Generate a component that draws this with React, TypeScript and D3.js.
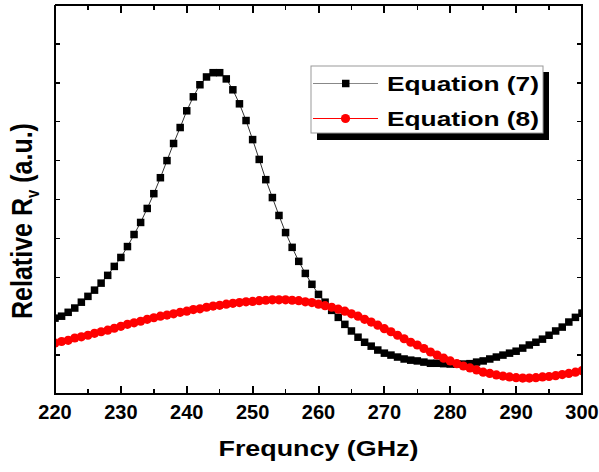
import React from 'react';
import * as d3 from 'd3';

// frequency axis, 1 GHz steps
const freqs = d3.range(220, 301, 1);

// Equation (7), relative units
const eq7 = [
  1.95, 2.0, 2.1, 2.21, 2.36, 2.51, 2.67, 2.85, 3.05, 3.28,
  3.51, 3.79, 4.1, 4.41, 4.77, 5.15, 5.56, 6.0, 6.44, 6.85,
  7.28, 7.64, 7.95, 8.15, 8.26, 8.26, 8.1, 7.82, 7.46, 7.03,
  6.54, 6.03, 5.51, 5.05, 4.59, 4.15, 3.77, 3.41, 3.1, 2.82,
  2.56, 2.36, 2.15, 1.97, 1.79, 1.62, 1.46, 1.33, 1.23, 1.13,
  1.05, 1.0, 0.95, 0.9, 0.87, 0.85, 0.82, 0.79, 0.79, 0.78,
  0.77, 0.77, 0.77, 0.78, 0.82, 0.85, 0.9, 0.95, 1.0, 1.05,
  1.1, 1.18, 1.26, 1.33, 1.41, 1.51, 1.62, 1.72, 1.85, 1.97,
  2.08,
];

// Equation (8), relative units
const eq8 = [
  1.31, 1.35, 1.38, 1.44, 1.47, 1.51, 1.56, 1.6, 1.64, 1.69,
  1.74, 1.79, 1.83, 1.87, 1.92, 1.96, 2.0, 2.03, 2.06, 2.1,
  2.13, 2.17, 2.19, 2.23, 2.26, 2.28, 2.31, 2.33, 2.35, 2.37,
  2.38, 2.4, 2.41, 2.42, 2.42, 2.42, 2.41, 2.4, 2.37, 2.35,
  2.31, 2.27, 2.23, 2.18, 2.13, 2.06, 2.0, 1.92, 1.85, 1.77,
  1.68, 1.6, 1.51, 1.42, 1.33, 1.26, 1.17, 1.08, 1.0, 0.92,
  0.85, 0.78, 0.72, 0.67, 0.62, 0.56, 0.53, 0.49, 0.46, 0.44,
  0.42, 0.41, 0.41, 0.42, 0.44, 0.45, 0.47, 0.5, 0.53, 0.56,
  0.6,
];

const xTicks = [220, 230, 240, 250, 260, 270, 280, 290, 300];
const legendLabels = ['Equation (7)', 'Equation (8)'];

const W = 599;
const H = 472;
const margin = { top: 5, right: 17, bottom: 78, left: 55 };
const FONT = "'Liberation Sans', Arial, sans-serif";

export default function App() {
  const iw = W - margin.left - margin.right;
  const ih = H - margin.top - margin.bottom;

  const x = d3.scaleLinear().domain([220, 300]).range([margin.left, margin.left + iw]);
  const y = d3.scaleLinear().domain([0, 10]).range([margin.top + ih, margin.top]);

  const line = d3.line<number>()
    .x((_, i) => x(freqs[i]))
    .y(d => y(d));

  const minorX = d3.range(225, 300, 10);
  const yTicks = d3.range(1, 10, 1);
  const [x0, x1] = x.range();
  const [y0, y1] = y.range();

  return (
    <svg width={W} height={H} style={{ position: 'absolute', left: 0, top: 0 }}>
      <defs>
        <clipPath id="plotclip">
          <rect x={x0} y={y1} width={iw} height={ih} />
        </clipPath>
      </defs>
      <g clipPath="url(#plotclip)">
        <path d={line(eq7) || ''} fill="none" stroke="#333" strokeWidth={1} />
        {eq7.map((d, i) => (
          <rect key={'s' + i} x={x(freqs[i]) - 3.75} y={y(d) - 3.75} width={7.5} height={7.5} fill="#000" />
        ))}
        <path d={line(eq8) || ''} fill="none" stroke="red" strokeWidth={1} />
        {eq8.map((d, i) => (
          <circle key={'c' + i} cx={x(freqs[i])} cy={y(d)} r={4.6} fill="red" />
        ))}
      </g>

      {/* ticks, all pointing inward */}
      <g stroke="#000" shapeRendering="crispEdges">
        {xTicks.map(t => (
          <g key={'xt' + t} strokeWidth={2}>
            <line x1={x(t)} x2={x(t)} y1={y0} y2={y0 - 8} />
            <line x1={x(t)} x2={x(t)} y1={y1} y2={y1 + 8} />
          </g>
        ))}
        {minorX.map(t => (
          <g key={'xm' + t} strokeWidth={1.5}>
            <line x1={x(t)} x2={x(t)} y1={y0} y2={y0 - 5} />
            <line x1={x(t)} x2={x(t)} y1={y1} y2={y1 + 5} />
          </g>
        ))}
        {yTicks.map(t => (
          <g key={'yt' + t} strokeWidth={1.5}>
            <line x1={x0} x2={x0 + 5} y1={y(t)} y2={y(t)} />
            <line x1={x1} x2={x1 - 5} y1={y(t)} y2={y(t)} />
          </g>
        ))}
        {/* frame */}
        <polyline points={`${x0},${y1} ${x1},${y1} ${x1},${y0} ${x0},${y0} ${x0},${y1}`}
          fill="none" strokeWidth={2.5} />
      </g>

      {xTicks.map(t => (
        <text key={'xl' + t} x={x(t)} y={y0 + 25} textAnchor="middle" fontFamily={FONT}
          fontWeight="bold" fontSize={20}>{t}</text>
      ))}

      {/* axis titles */}
      <text x={(x0 + x1) / 2} y={y0 + 62} textAnchor="middle" fontFamily={FONT}
        fontWeight="bold" fontSize={22} textLength={200} lengthAdjust="spacingAndGlyphs">Frequncy (GHz)</text>
      <text transform="translate(32,221) scale(1.2,1) rotate(-90)" textAnchor="middle"
        fontFamily={FONT} fontWeight="bold" fontSize={25}>
        Relative R<tspan fontSize={15} dy={6}>v</tspan><tspan dy={-6}> (a.u.)</tspan>
      </text>

      {/* legend */}
      <g>
        <rect x={317} y={72} width={232} height={68} fill="#000" />
        <rect x={311} y={66} width={232} height={67} fill="#fff" stroke="#999" strokeWidth={1} />
        {legendLabels.map((lab, i) => {
          const ly = 83.5 + i * 35;
          return (
            <g key={lab}>
              <line x1={313} x2={378} y1={ly} y2={ly} stroke={i === 0 ? '#888' : 'red'} strokeWidth={1} />
              {i === 0
                ? <rect x={342} y={ly - 3.75} width={7.5} height={7.5} fill="#000" />
                : <circle cx={345.5} cy={ly} r={4.6} fill="red" />}
              <text x={387} y={ly + 7.5} fontFamily={FONT} fontWeight="bold" fontSize={21}
                textLength={152} lengthAdjust="spacingAndGlyphs">{lab}</text>
            </g>
          );
        })}
      </g>
    </svg>
  );
}
